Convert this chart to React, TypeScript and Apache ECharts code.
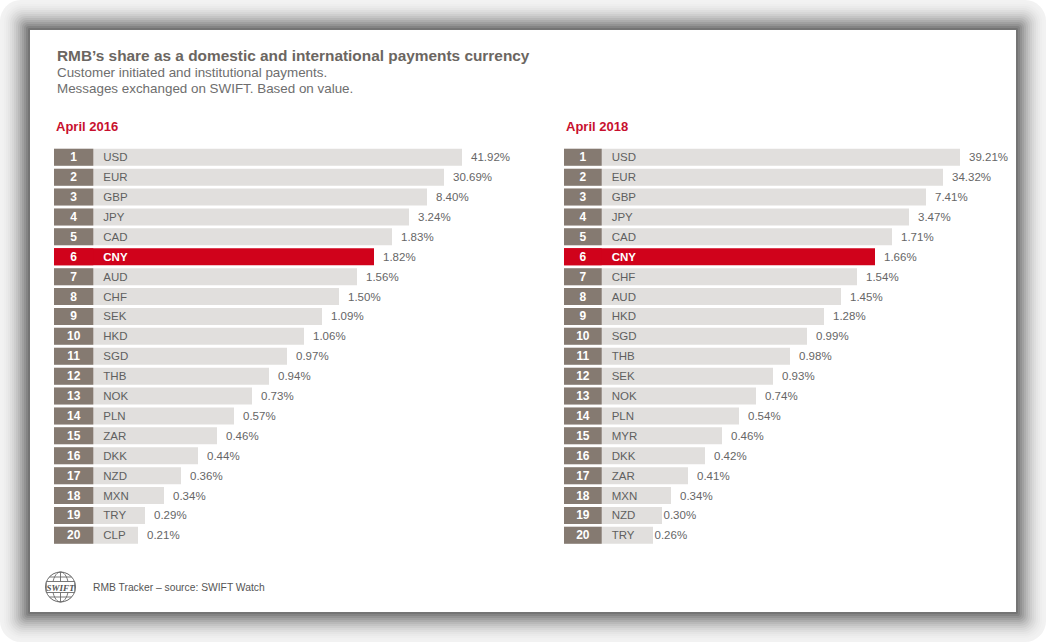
import React, { useEffect, useRef } from "react";
import * as echarts from "echarts";

// ---- data ----
const currencies2016 = ["USD", "EUR", "GBP", "JPY", "CAD", "CNY", "AUD", "CHF", "SEK", "HKD", "SGD", "THB", "NOK", "PLN", "ZAR", "DKK", "NZD", "MXN", "TRY", "CLP"];
const share2016 = [41.92, 30.69, 8.4, 3.24, 1.83, 1.82, 1.56, 1.5, 1.09, 1.06, 0.97, 0.94, 0.73, 0.57, 0.46, 0.44, 0.36, 0.34, 0.29, 0.21];
// displayed bar lengths (rank-based)
const barLen2016 = [408, 390, 373, 355, 338, 320, 303, 285, 268, 250, 233, 215, 198, 180, 163, 144, 127, 110, 91, 84];

const currencies2018 = ["USD", "EUR", "GBP", "JPY", "CAD", "CNY", "CHF", "AUD", "HKD", "SGD", "THB", "SEK", "NOK", "PLN", "MYR", "DKK", "ZAR", "MXN", "NZD", "TRY"];
const share2018 = [39.21, 34.32, 7.41, 3.47, 1.71, 1.66, 1.54, 1.45, 1.28, 0.99, 0.98, 0.93, 0.74, 0.54, 0.46, 0.42, 0.41, 0.34, 0.3, 0.26];
const barLen2018 = [396, 379, 362, 345, 328, 311, 293, 277, 260, 243, 226, 209, 192, 175, 158, 141, 124, 107, 98, 89];

const panelTitles = ["April 2016", "April 2018"];

// ---- styles ----
const FONT = '"Liberation Sans", Arial, Helvetica, sans-serif';
const RED = "#d0021b";
const BROWN = "#857a71";
const LIGHT = "#e1dfdd";

function buildPanel(
  idx: number,
  cats: string[],
  shares: number[],
  lens: number[],
  rankW: number,
  closeLabels: number[]
) {
  const gray = {
    type: "bar",
    xAxisIndex: idx,
    yAxisIndex: idx,
    barWidth: 17,
    barGap: "-100%",
    silent: true,
    itemStyle: { color: LIGHT },
    label: {
      show: true,
      position: "right",
      distance: 9,
      color: "#666666",
      fontSize: 11.5,
      fontFamily: FONT,
      formatter: (p: any) => shares[p.dataIndex].toFixed(2) + "%",
    },
    data: lens.map((v, i) => {
      const item: any = { value: v };
      if (cats[i] === "CNY") item.itemStyle = { color: RED };
      if (closeLabels.indexOf(i) >= 0) item.label = { distance: 1.5 };
      return item;
    }),
  };
  const rank = {
    type: "bar",
    xAxisIndex: idx,
    yAxisIndex: idx,
    barWidth: 17,
    barGap: "-100%",
    silent: true,
    itemStyle: { color: BROWN },
    label: {
      show: true,
      position: "insideLeft",
      distance: 0,
      fontFamily: FONT,
      formatter: (p: any) => {
        const c = cats[p.dataIndex];
        const n = p.dataIndex + 1;
        return c === "CNY" ? `{r|${n}}{cw|${c}}` : `{r|${n}}{c|${c}}`;
      },
      rich: {
        r: { width: rankW, align: "center", color: "#ffffff", fontSize: 12, fontWeight: "bold", fontFamily: FONT },
        c: { color: "#5f5f5f", fontSize: 11.5, fontFamily: FONT, padding: [0, 0, 0, 10] },
        cw: { color: "#ffffff", fontSize: 11.5, fontWeight: "bold", fontFamily: FONT, padding: [0, 0, 0, 10] },
      },
    },
    data: cats.map((c) => (c === "CNY" ? { value: rankW, itemStyle: { color: RED } } : { value: rankW })),
  };
  return [gray, rank];
}

function frameElements() {
  const els: any[] = [];
  const W = 1046;
  const H = 642;
  const steps = 15;
  for (let k = 0; k < steps; k++) {
    const t = k / (steps - 1);
    const g = Math.round(242 - 126 * Math.pow(t, 1.8));
    const inset = 2 * k;
    els.push({
      type: "rect",
      silent: true,
      shape: { x: inset, y: inset, width: W - 2 * inset, height: H - 2 * inset, r: Math.max(0, (steps - k) * 1.4) },
      style: { fill: `rgb(${g},${g},${g})` },
    });
  }
  els.push({
    type: "rect",
    silent: true,
    shape: { x: 30, y: 30, width: W - 60, height: H - 60 },
    style: { fill: "#ffffff" },
  });
  return els;
}

function text(x: number, y: number, t: string, font: string, fill: string) {
  return {
    type: "text",
    silent: true,
    x,
    y,
    style: {
      text: t,
      font,
      fill,
      align: "left",
      verticalAlign: "middle",
      textAlign: "left",
      textVerticalAlign: "middle",
    },
  };
}

function logo(cx: number, cy: number) {
  const stroke = "#6a6a6a";
  const r = 15;
  const children: any[] = [
    { type: "circle", shape: { cx: 0, cy: 0, r }, style: { fill: "none", stroke, lineWidth: 1 } },
    { type: "ellipse", shape: { cx: 0, cy: 0, rx: 8, ry: r }, style: { fill: "none", stroke, lineWidth: 0.9 } },
    { type: "line", shape: { x1: 0, y1: -r, x2: 0, y2: r }, style: { stroke, lineWidth: 0.9 } },
    { type: "line", shape: { x1: -11.2, y1: -10, x2: 11.2, y2: -10 }, style: { stroke, lineWidth: 0.9 } },
    { type: "line", shape: { x1: -11.2, y1: 10, x2: 11.2, y2: 10 }, style: { stroke, lineWidth: 0.9 } },
    { type: "rect", shape: { x: -14.2, y: -5.5, width: 28.4, height: 11 }, style: { fill: "#ffffff", stroke, lineWidth: 0.9 } },
    {
      type: "text",
      x: 0,
      y: 0.5,
      style: {
        text: "SWIFT",
        font: 'italic bold 9px "Liberation Serif", serif',
        fill: "#555555",
        align: "center",
        verticalAlign: "middle",
        textAlign: "center",
        textVerticalAlign: "middle",
      },
    },
  ];
  return { type: "group", x: cx, y: cy, silent: true, children };
}

export default function App() {
  const ref = useRef<HTMLDivElement>(null);

  useEffect(() => {
    document.body.style.margin = "0";
    if (!ref.current) return;
    const chart = echarts.init(ref.current, undefined, { renderer: "svg" });

    const gridTop = 147.3;
    const gridH = 398;
    const panels = [
      { left: 54, width: 470 },
      { left: 564, width: 440 },
    ];

    const option: any = {
      animation: false,
      backgroundColor: "#ffffff",
      grid: panels.map((p) => ({ left: p.left, top: gridTop, width: p.width, height: gridH, containLabel: false })),
      xAxis: panels.map((p, i) => ({
        type: "value",
        gridIndex: i,
        min: 0,
        max: p.width,
        show: false,
      })),
      yAxis: [currencies2016, currencies2018].map((cats, i) => ({
        type: "category",
        gridIndex: i,
        inverse: true,
        data: cats,
        show: false,
      })),
      graphic: {
        elements: [
          ...frameElements(),
          text(57, 55, "RMB\u2019s share as a domestic and international payments currency", `bold 15.4px ${FONT}`, "#6b6661"),
          text(57, 72.5, "Customer initiated and institutional payments.", `13.4px ${FONT}`, "#6e6e6e"),
          text(57, 88.5, "Messages exchanged on SWIFT. Based on value.", `13.4px ${FONT}`, "#6e6e6e"),
          text(56, 126, panelTitles[0], `bold 13px ${FONT}`, "#c8102e"),
          text(566, 126, panelTitles[1], `bold 13px ${FONT}`, "#c8102e"),
          logo(60.5, 587),
          text(93, 587.5, "RMB Tracker \u2013 source: SWIFT Watch", `10.3px ${FONT}`, "#555555"),
        ],
      },
      series: [
        ...buildPanel(0, currencies2016, share2016, barLen2016, 39.3, []),
        ...buildPanel(1, currencies2018, share2018, barLen2018, 37.7, [18, 19]),
      ],
    };

    chart.setOption(option);
    return () => chart.dispose();
  }, []);

  return <div ref={ref} style={{ width: 1046, height: 642 }} />;
}
